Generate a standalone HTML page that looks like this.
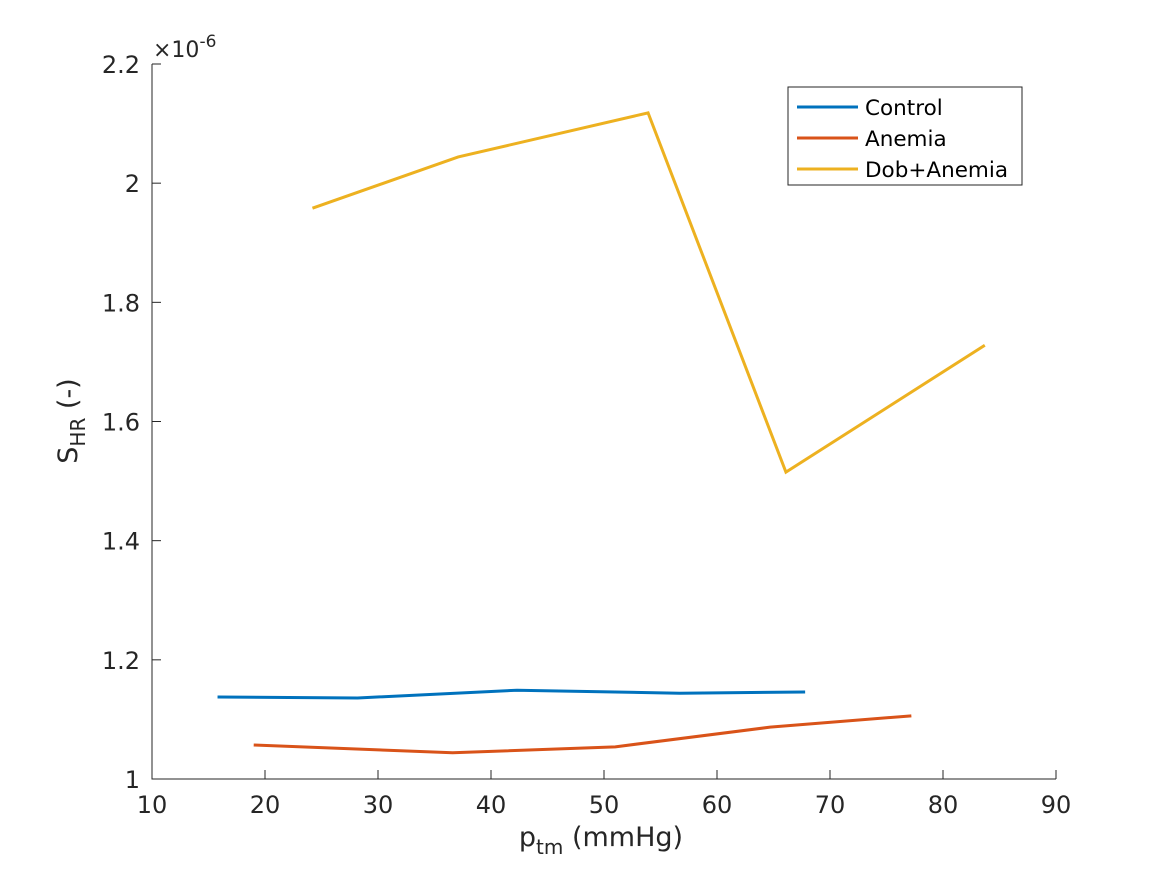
<!DOCTYPE html>
<html><head><meta charset="utf-8"><style>
body{margin:0;background:#fff;}
svg{font-family:"DejaVu Sans","Liberation Sans",sans-serif;}
</style></head><body>
<svg id="chart" width="1167" height="875" xmlns="http://www.w3.org/2000/svg">
<rect width="1167" height="875" fill="#fff"/>
<g id="axes"></g>
<g id="series"></g>
<g id="legend">
<rect x="788" y="87" width="234" height="98" fill="#fff" stroke="#262626" stroke-width="1"/>
</g>
</svg>
<script>
const xTicks=[10,20,30,40,50,60,70,80,90];
const yTicks=[1,1.2,1.4,1.6,1.8,2,2.2];
const yTickLabels=["1","1.2","1.4","1.6","1.8","2","2.2"];
const seriesNames=["Control","Anemia","Dob+Anemia"];
const controlX=[15.8,28.2,42.3,56.7,67.8];
const controlY=[1.1376,1.136,1.149,1.144,1.146];
const anemiaX=[19.0,36.6,51.0,64.7,77.2];
const anemiaY=[1.057,1.044,1.054,1.087,1.106];
const dobX=[24.2,37.1,53.9,66.1,83.7];
const dobY=[1.958,2.044,2.118,1.515,1.728];
const colors=["#0072BD","#D95319","#EDB120"];
const L=152,R=1056,T=64,B=779,xmin=10,xmax=90,ymin=1,ymax=2.2;
const sx=v=>L+(v-xmin)/(xmax-xmin)*(R-L);
const sy=v=>B-(v-ymin)/(ymax-ymin)*(B-T);
const NS="http://www.w3.org/2000/svg";
function mk(tag,attrs,parent,text){const e=document.createElementNS(NS,tag);for(const k in attrs)e.setAttribute(k,attrs[k]);if(text!==undefined)e.textContent=text;parent.appendChild(e);return e;}
const ax=document.getElementById('axes');
let e=mk('path',{d:`M${L} ${T}V${B}H${R}`,fill:'none',stroke:'#262626','stroke-width':1},ax);


xTicks.forEach(t=>{const x=sx(t);
mk('line',{x1:x,x2:x,y1:B,y2:B-9,stroke:'#262626'},ax);
e=mk('text',{x:x,y:813,'text-anchor':'middle','font-size':24,fill:'#262626'},ax,String(t));

});
yTicks.forEach((t,i)=>{const y=sy(t);
mk('line',{x1:L,x2:L+9,y1:y,y2:y,stroke:'#262626'},ax);
e=mk('text',{x:L-12,y:y+9,'text-anchor':'end','font-size':24,fill:'#262626'},ax,yTickLabels[i]);

});
e=mk('text',{x:153,y:57,'font-size':22,fill:'#262626'},ax,'×10');


mk('tspan',{dy:-10,'font-size':17},e,'-6');
e=mk('text',{x:601,y:846,'text-anchor':'middle','font-size':27,fill:'#262626'},ax,'p');


mk('tspan',{dy:8,'font-size':20},e,'tm');
mk('tspan',{dy:-8},e,' (mmHg)');
e=mk('text',{transform:'translate(77,421) rotate(-90)','text-anchor':'middle','font-size':27,fill:'#262626'},ax,'S');


mk('tspan',{dy:8,'font-size':20},e,'HR');
mk('tspan',{dy:-8},e,' (-)');
const sg=document.getElementById('series');
const data=[[controlX,controlY],[anemiaX,anemiaY],[dobX,dobY]];
data.forEach((d,i)=>{const pts=d[0].map((x,j)=>sx(x)+','+sy(d[1][j])).join(' ');
const p=mk('polyline',{points:pts,fill:'none',stroke:colors[i],'stroke-width':3},sg);

});
const lg=document.getElementById('legend');
seriesNames.forEach((n,i)=>{const y=107+i*31;
mk('line',{x1:797,x2:858,y1:y,y2:y,stroke:colors[i],'stroke-width':3},lg);
const t=mk('text',{x:865,y:y+8,'font-size':21.5,fill:'#000'},lg,n);

});
</script>
</body></html>
